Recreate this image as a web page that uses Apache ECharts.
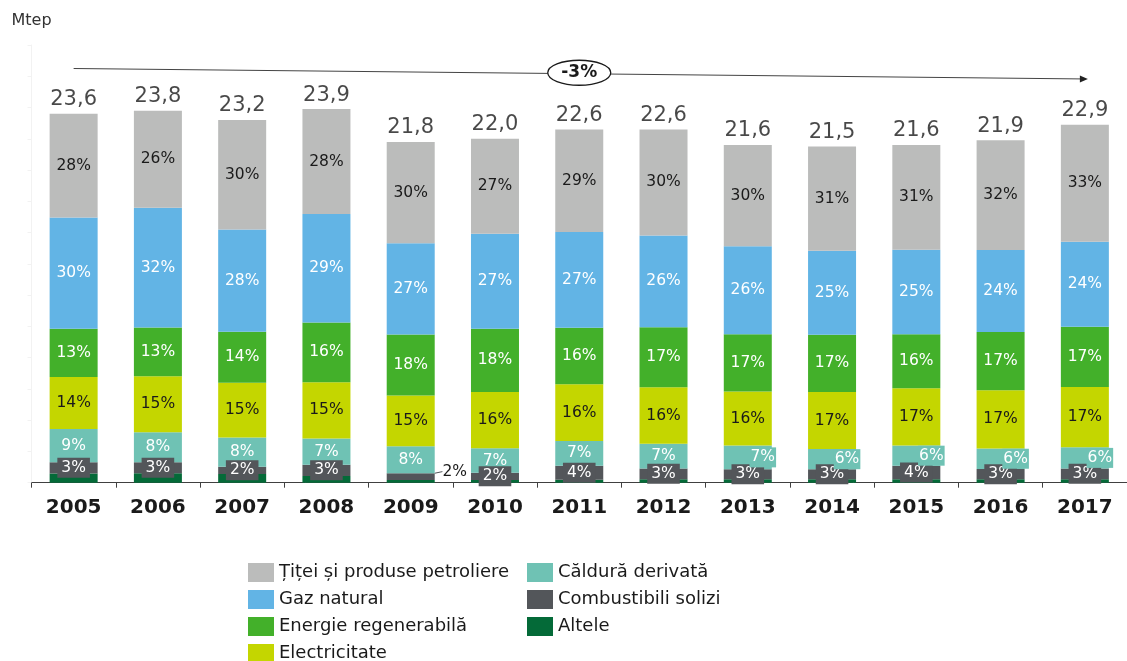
<!DOCTYPE html>
<html>
<head>
<meta charset="utf-8">
<style>
  html, body { margin: 0; padding: 0; background: #ffffff; }
  #chart { width: 1127px; height: 661px; }
</style>
<script src="https://cdn.jsdelivr.net/npm/echarts@6/dist/echarts.min.js"></script>
</head>
<body>
<div id="chart"></div>
<script>
// Consumul final de energie, Mtep, pe surse (ponderi in %)
const years = ['2005', '2006', '2007', '2008', '2009', '2010', '2011', '2012', '2013', '2014', '2015', '2016', '2017'];
const totals = [23.6, 23.8, 23.2, 23.9, 21.8, 22.0, 22.6, 22.6, 21.6, 21.5, 21.6, 21.9, 22.9];

// shares, %
const shareTitei    = [28, 26, 30, 28, 30, 27, 29, 30, 30, 31, 31, 32, 33];
const shareGaz      = [30, 32, 28, 29, 27, 27, 27, 26, 26, 25, 25, 24, 24];
const shareRegen    = [13, 13, 14, 16, 18, 18, 16, 17, 17, 17, 16, 17, 17];
const shareElectric = [14, 15, 15, 15, 15, 16, 16, 16, 16, 17, 17, 17, 17];
const shareCaldura  = [9, 8, 8, 7, 8, 7, 7, 7, 7, 6, 6, 6, 6];
const shareSolizi   = [3, 3, 2, 3, 2, 2, 4, 3, 3, 3, 4, 3, 3];
const shareAltele   = [2.5, 2.5, 2.4, 1.8, 0.8, 0.8, 0.8, 1.0, 1.0, 1.0, 1.0, 1.0, 1.0];

const trendLabel = '-3%';

const FONT = "'DejaVu Sans'";
const TEXT = '#1a1a1a';
const PCT_SIZE = 15.5;

const names = {
  titei: 'Țiței și produse petroliere',
  gaz: 'Gaz natural',
  regen: 'Energie regenerabilă',
  electric: 'Electricitate',
  caldura: 'Căldură derivată',
  solizi: 'Combustibili solizi',
  altele: 'Altele'
};

// stacking order, bottom to top
const layers = [
  { key: 'altele',   share: shareAltele,   color: '#046a38', labelColor: null },
  { key: 'solizi',   share: shareSolizi,   color: '#53565a', labelColor: '#ffffff' },
  { key: 'caldura',  share: shareCaldura,  color: '#6fc2b4', labelColor: '#ffffff' },
  { key: 'electric', share: shareElectric, color: '#c4d600', labelColor: TEXT },
  { key: 'regen',    share: shareRegen,    color: '#43b02a', labelColor: '#ffffff' },
  { key: 'gaz',      share: shareGaz,      color: '#62b4e5', labelColor: '#ffffff' },
  { key: 'titei',    share: shareTitei,    color: '#bbbcbb', labelColor: TEXT }
];

// each bar is split by its shares so the stack ends at the year's total
const shareSums = years.map((_, i) => layers.reduce((s, l) => s + l.share[i], 0));

function itemLabel(key, i) {
  if (key === 'solizi') {
    if (i === 4) {
      return { color: TEXT, backgroundColor: 'transparent', padding: 0 };
    }
    if (i >= 8) return { offset: [-12, 0] };
  }
  if (key === 'caldura' && i >= 8) {
    return { offset: [15, 0], backgroundColor: '#6fc2b4', padding: [2, 1] };
  }
  return null;
}

const barSeries = layers.map(l => {
  const data = years.map((_, i) => {
    const item = { value: +(totals[i] * l.share[i] / shareSums[i]).toFixed(4) };
    const lab = itemLabel(l.key, i);
    if (lab) item.label = lab;
    if (l.key === 'solizi' && i === 4) item.labelLine = { show: true, lineStyle: { color: '#53565a', width: 1 } };
    return item;
  });
  const s = {
    name: names[l.key],
    type: 'bar',
    stack: 'total',
    barWidth: 48,
    itemStyle: { color: l.color },
    data: data,
    label: { show: false }
  };
  if (l.labelColor) {
    s.label = {
      show: true,
      position: 'inside',
      fontFamily: FONT,
      fontSize: PCT_SIZE,
      color: l.labelColor,
      formatter: p => l.share[p.dataIndex] + '%'
    };
  }
  if (l.key === 'solizi') {
    s.label.backgroundColor = '#53565a';
    s.label.padding = [2, 4];
    s.labelLayout = p => (p.dataIndex === 4 ? { dx: 44, dy: -5 } : {});
  }
  return s;
});

const totalSeries = {
  name: 'Total',
  type: 'scatter',
  data: totals,
  symbolSize: 1,
  itemStyle: { color: 'rgba(0,0,0,0)' },
  z: 5,
  label: {
    show: true,
    position: 'top',
    distance: 3,
    fontFamily: FONT,
    fontSize: 21,
    color: TEXT,
    formatter: p => totals[p.dataIndex].toFixed(1).replace('.', ',')
  }
};

const legendCommon = {
  orient: 'vertical',
  icon: 'rect',
  itemWidth: 26,
  itemHeight: 19,
  itemGap: 8,
  selectedMode: false,
  top: 563,
  height: 140,
  padding: 0,
  textStyle: { fontFamily: FONT, fontSize: 18, color: TEXT }
};

const chart = echarts.init(document.getElementById('chart'), null, { renderer: 'canvas' });

chart.setOption({
  animation: false,
  backgroundColor: '#ffffff',
  grid: { left: 31.5, right: -3.3, top: 45, bottom: 178.3, containLabel: false },
  legend: [
    Object.assign({}, legendCommon, {
      left: 248,
      data: [names.titei, names.gaz, names.regen, names.electric]
    }),
    Object.assign({}, legendCommon, {
      left: 527,
      data: [names.caldura, names.solizi, names.altele]
    })
  ],
  xAxis: {
    type: 'category',
    data: years,
    boundaryGap: true,
    axisLine: { lineStyle: { color: '#404040', width: 1 } },
    axisTick: { show: true, alignWithLabel: false, length: 5, lineStyle: { color: '#404040' } },
    axisLabel: { fontFamily: FONT, fontSize: 20, fontWeight: 'bold', color: TEXT, margin: 15 }
  },
  yAxis: {
    type: 'value',
    min: 0,
    max: 28,
    interval: 2,
    name: 'Mtep',
    nameLocation: 'end',
    nameGap: 16,
    nameTextStyle: { fontFamily: FONT, fontSize: 16, color: '#333333', align: 'center' },
    axisLine: { show: true, lineStyle: { color: '#f2f2f2' } },
    axisTick: { show: true, length: 4, lineStyle: { color: '#f2f2f2' } },
    axisLabel: { show: false },
    splitLine: { show: false }
  },
  series: barSeries.concat([totalSeries])
});

// trend arrow across the top of the bars, with its percentage badge
const xStart = chart.convertToPixel({ xAxisIndex: 0 }, years[0]);
const xEnd = chart.convertToPixel({ xAxisIndex: 0 }, years[years.length - 1]);
const xBadge = chart.convertToPixel({ xAxisIndex: 0 }, years[6]);
const yA = 68.5, yB = 79;
const tipX = xEnd + 3;
const yAt = x => yA + (x - xStart) * (yB - yA) / (tipX - xStart);

chart.setOption({
  graphic: [
    {
      type: 'line',
      shape: { x1: xStart, y1: yA, x2: tipX - 7, y2: yAt(tipX - 7) },
      style: { stroke: '#444444', lineWidth: 1 },
      z: 10
    },
    {
      type: 'polygon',
      shape: { points: [[tipX, yB], [tipX - 8, yB - 3.5], [tipX - 8, yB + 3.5]] },
      style: { fill: '#222222' },
      z: 10
    },
    {
      type: 'ellipse',
      shape: { cx: xBadge, cy: yAt(xBadge) - 1, rx: 31.5, ry: 12.5 },
      style: { fill: '#ffffff', stroke: '#1a1a1a', lineWidth: 1.3 },
      z: 11
    },
    {
      type: 'text',
      x: xBadge,
      y: yAt(xBadge) - 1,
      style: {
        text: trendLabel,
        fontFamily: FONT,
        fontSize: 17,
        fontWeight: 'bold',
        fill: TEXT,
        align: 'center',
        verticalAlign: 'middle'
      },
      z: 12
    }
  ]
});
</script>
</body>
</html>
